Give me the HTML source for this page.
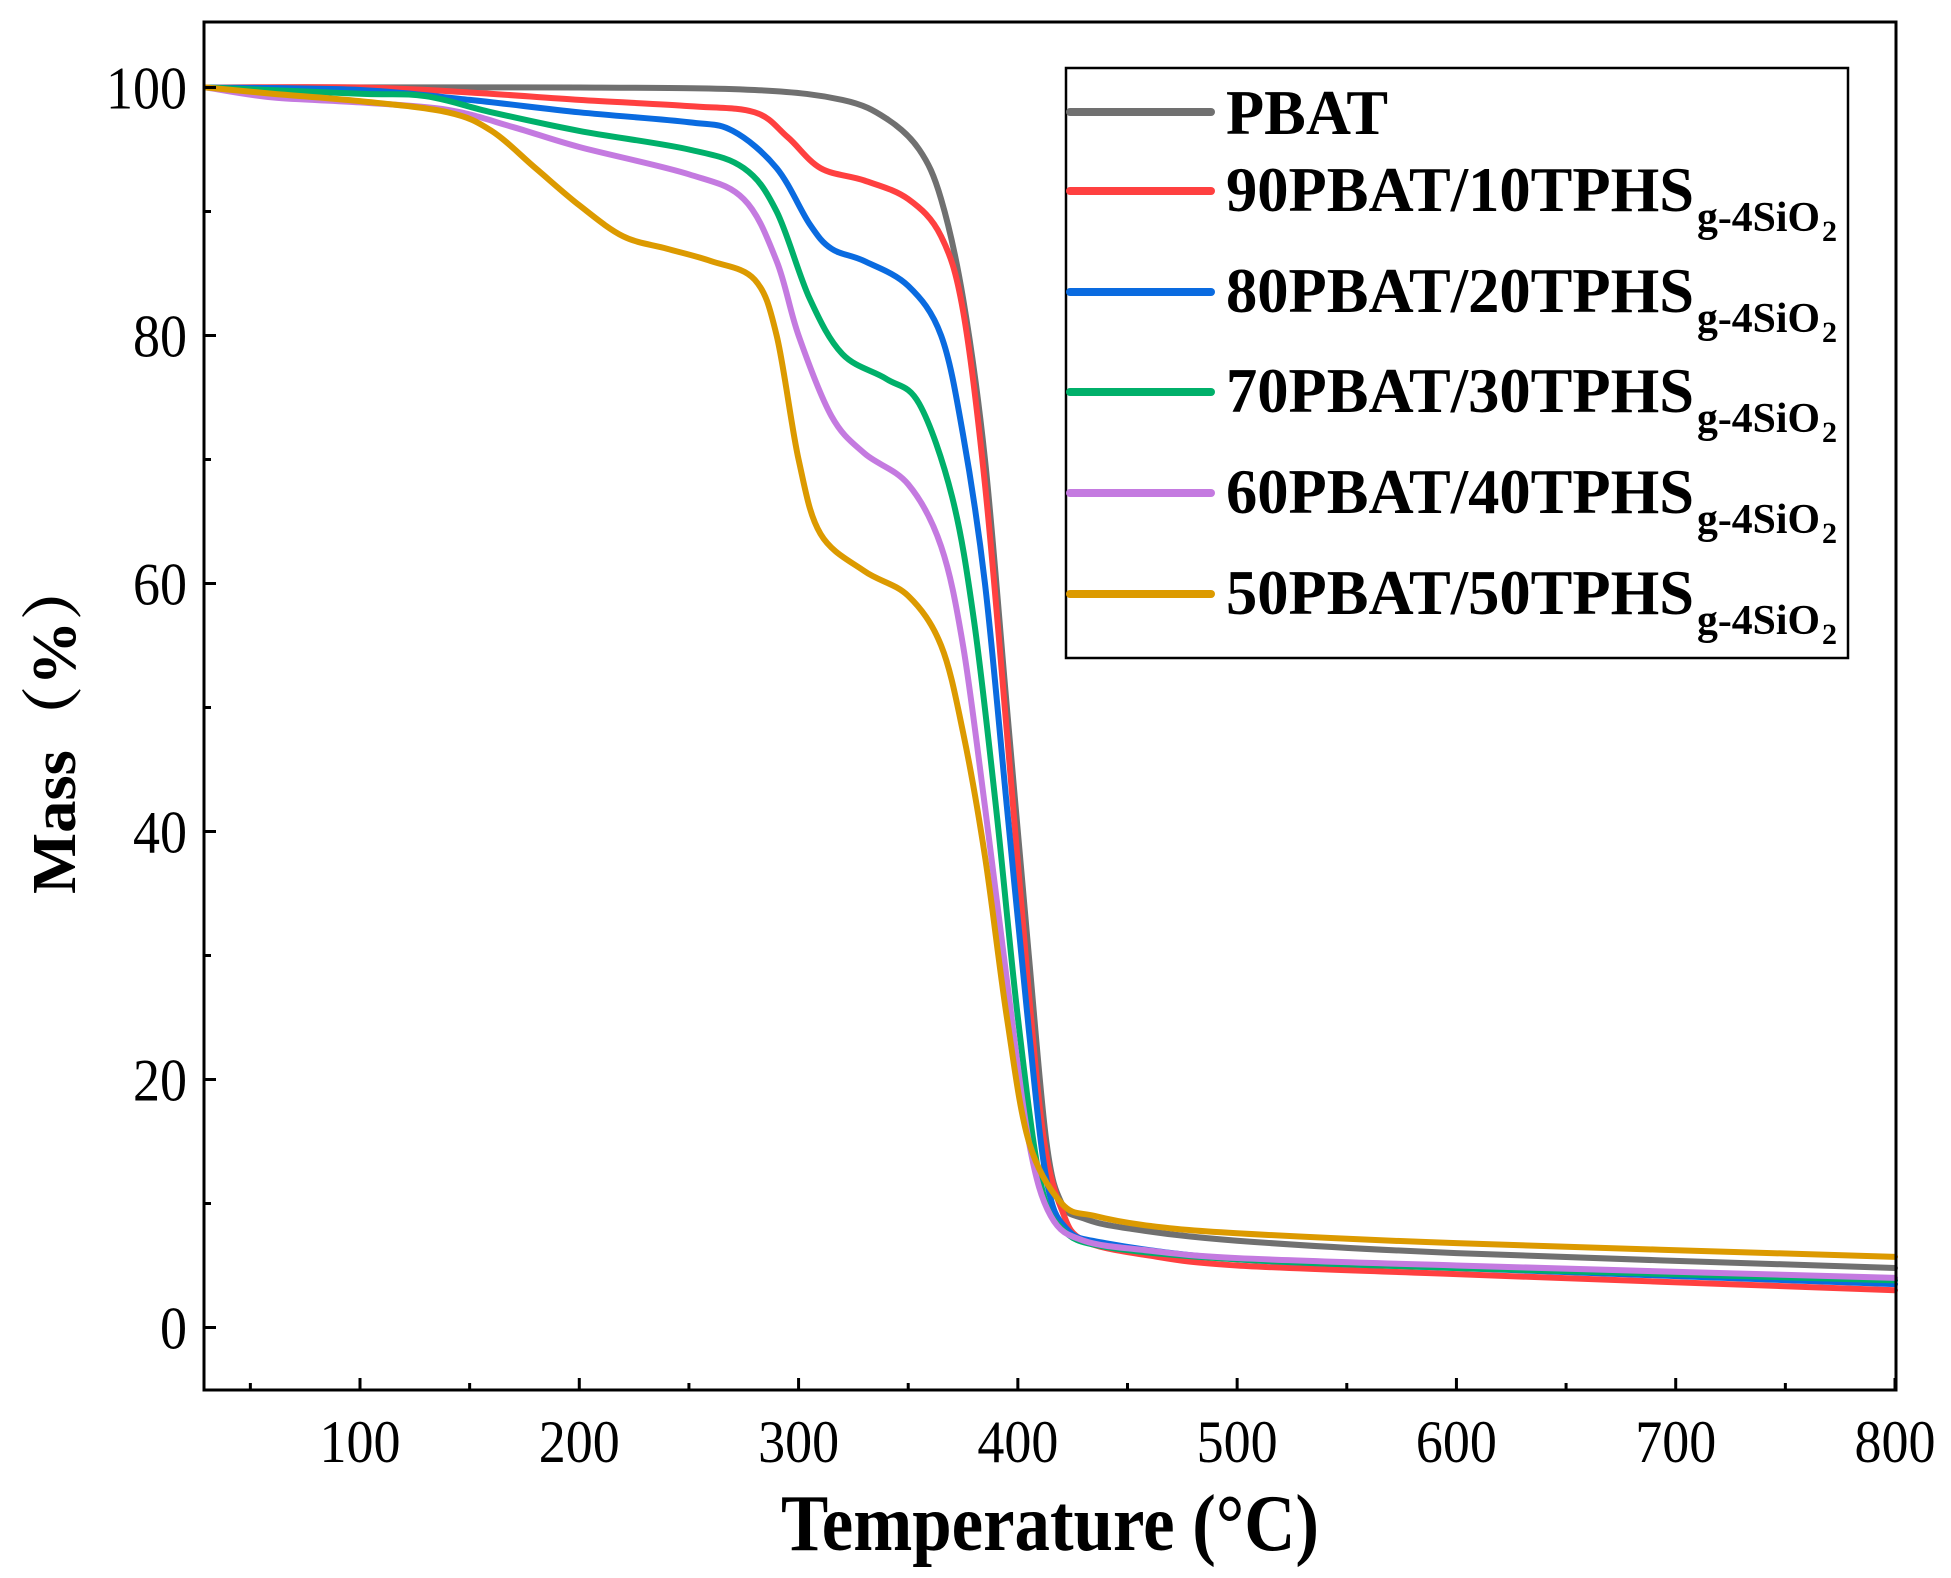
<!DOCTYPE html>
<html><head><meta charset="utf-8"><style>body{margin:0;background:#fff}svg{display:block}</style></head>
<body>
<svg id="s" width="1951" height="1578" xmlns="http://www.w3.org/2000/svg" font-family="'Liberation Serif','Noto Serif CJK SC',serif">
<rect width="1951" height="1578" fill="#fff"/>
<g id="curves" fill="none" stroke-width="6" stroke-linejoin="round" stroke-linecap="round"></g>
<rect x="204" y="22" width="1692" height="1368" fill="none" stroke="#000" stroke-width="3"/>
<g id="ticks" stroke="#000" stroke-width="3"></g>
<g id="labels" font-size="60" fill="#000"></g>
<text x="1050" y="1550" font-size="80" font-weight="bold" text-anchor="middle" textLength="538" lengthAdjust="spacingAndGlyphs">Temperature (°C)</text>
<text transform="translate(75,725) rotate(-90)" font-size="62" font-weight="bold" text-anchor="middle" textLength="338" lengthAdjust="spacingAndGlyphs">Mass（%）</text>
<rect x="1066" y="68" width="782" height="590" fill="#fff" stroke="#000" stroke-width="2.5"/>
<g id="legend" font-weight="bold"></g>
</svg>
<script>
const X=t=>360+(t-100)*1535/700, Y=m=>1327.5-m*12.4;
const S=[
["#707070","PBAT",[[30,100],[200,100],[280,99.8],[320,99],[340,97.5],[355,95],[365,91],[375,83],[385,70],[395,50],[405,30],[413,15],[420,10],[430,8.8],[450,8],[500,7],[600,6],[800,4.8]]],
["#ff4040","90PBAT/10TPHS",[[30,100],[100,100],[150,99.6],[200,99],[250,98.5],[280,98],[295,96],[310,93.5],[330,92.5],[350,91],[365,88],[375,82],[385,68],[395,48],[405,27],[412,15],[420,9.5],[430,7],[460,5.8],[500,5],[600,4.3],[800,3]]],
["#0a6be0","80PBAT/20TPHS",[[30,100],[100,99.8],[150,99],[200,98],[250,97.2],[270,96.5],[290,93.5],[305,89],[315,87],[330,86],[350,84],[365,80],[375,72],[385,60],[395,42],[405,24],[413,12],[422,8],[440,6.8],[500,5.5],[600,4.8],[800,3.5]]],
["#00b06a","70PBAT/30TPHS",[[30,100],[100,99.5],[130,99.3],[160,98],[200,96.5],[250,95],[275,93.5],[290,90],[305,83],[320,78.5],[340,76.5],[355,74.5],[370,67],[380,57],[390,42],[400,25],[410,12],[420,8],[440,6.5],[500,5.5],[600,4.8],[800,3.8]]],
["#c47ae0","60PBAT/40TPHS",[[30,100],[60,99.2],[100,98.8],[140,98.2],[170,96.8],[200,95.2],[250,93],[275,91],[290,86],[300,80],[315,73.5],[330,70.5],[350,68],[365,63],[375,55],[385,42],[395,28],[405,15],[415,9],[430,7],[460,6.2],[500,5.6],[600,5],[800,4]]],
["#dc9a00","50PBAT/50TPHS",[[30,100],[60,99.5],[100,98.9],[140,98],[160,96.5],[180,93.5],[200,90.5],[220,88],[240,87],[260,86],[280,84.5],[290,80],[300,70],[310,64],[330,61],[350,59],[365,55],[375,48],[385,38],[395,25],[405,15],[420,10],[435,9],[460,8.2],[500,7.6],[600,6.8],[800,5.7]]]
];
const NS="http://www.w3.org/2000/svg";
function el(p,n,a,t){const e=document.createElementNS(NS,n);for(const k in a)e.setAttribute(k,a[k]);if(t!=null)e.textContent=t;p.appendChild(e);return e;}
const cg=document.getElementById("curves");
S.forEach(([c,,d])=>{const p=d.map(([t,m])=>[X(t),Y(m)]);let s="M"+p[0][0]+","+p[0][1];
for(let i=0;i<p.length-1;i++){const a=p[i-1]||p[i],b=p[i],q=p[i+1],r=p[i+2]||q;
s+=` C${b[0]+(q[0]-a[0])/6},${b[1]+(q[1]-a[1])/6} ${q[0]-(r[0]-b[0])/6},${q[1]-(r[1]-b[1])/6} ${q[0]},${q[1]}`;}
el(cg,"path",{d:s,stroke:c});});
const tg=document.getElementById("ticks"),lg=document.getElementById("labels");
for(let t=50;t<=800;t+=50){const x=X(t),L=t%100?7:12;el(tg,"line",{x1:x,x2:x,y1:1390,y2:1390-L});
if(t%100==0)el(lg,"text",{x:x,y:1462,"text-anchor":"middle",textLength:81,lengthAdjust:"spacingAndGlyphs"},t);}
for(let m=0;m<=100;m+=10){const y=Y(m),L=m%20?7:12;el(tg,"line",{x1:204,x2:204+L,y1:y,y2:y});
if(m%20==0){const s=String(m);el(lg,"text",{x:187,y:y+21,"text-anchor":"end",textLength:27*s.length,lengthAdjust:"spacingAndGlyphs"},s);}}
const leg=document.getElementById("legend");const ys=[112,191,292,392,493,594];
S.forEach(([c,n],i)=>{const y=ys[i];el(leg,"line",{x1:1070,x2:1211,y1:y,y2:y,stroke:c,"stroke-width":8,"stroke-linecap":"round"});
if(i==0){el(leg,"text",{x:1226,y:y+22,"font-size":64,textLength:162,lengthAdjust:"spacingAndGlyphs"},n);}
else{el(leg,"text",{x:1226,y:y+20,"font-size":64,textLength:468,lengthAdjust:"spacingAndGlyphs"},n);
el(leg,"text",{x:1697,y:y+40,"font-size":42,textLength:123,lengthAdjust:"spacingAndGlyphs"},"g-4SiO");
el(leg,"text",{x:1822,y:y+50,"font-size":30},"2");}});
</script>
</body></html>
